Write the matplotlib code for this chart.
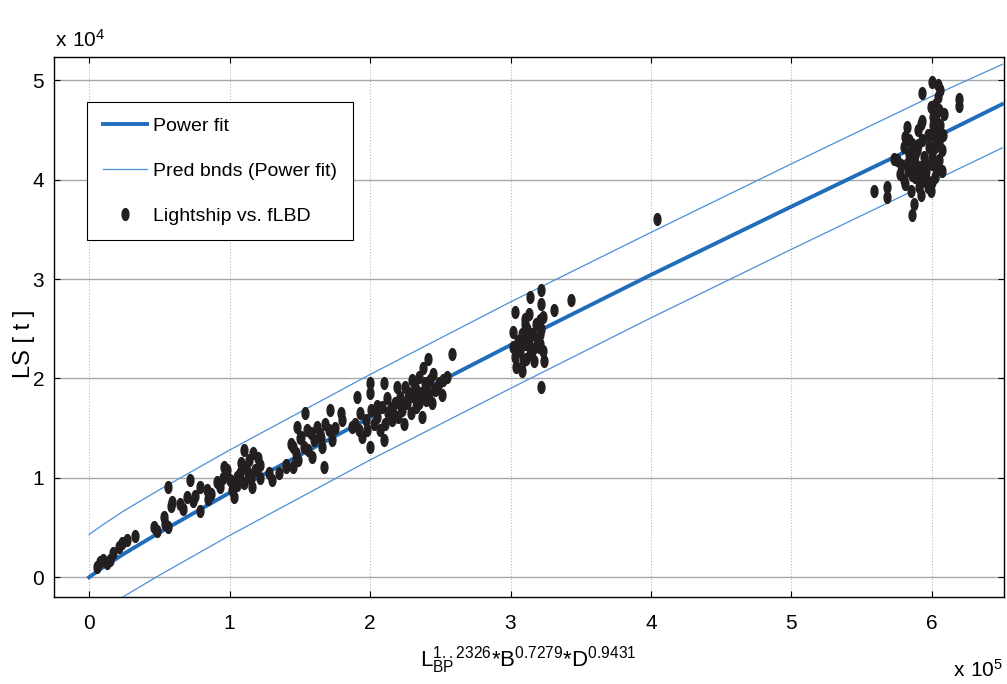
import numpy as np
import matplotlib
matplotlib.use("Agg")
import matplotlib.pyplot as plt

plt.rcParams['font.family'] = ['Liberation Sans', 'DejaVu Sans']
plt.rcParams['mathtext.default'] = 'regular'

# data (x in 1e5, y in 1e4 units)
ship_x = [0.055, 0.078, 0.10, 0.126, 0.15, 0.173, 0.21, 0.233, 0.27, 0.33,
          0.46, 0.48, 0.53, 0.54, 0.56, 0.56, 0.58, 0.59, 0.65, 0.67,
          0.70, 0.72, 0.74, 0.755, 0.79, 0.79, 0.84, 0.85, 0.87, 0.91,
          0.93, 0.96, 0.98, 1.00, 1.02, 1.03, 1.05, 1.075, 1.10, 1.10,
          1.12, 1.135, 1.15, 1.16, 1.17, 1.18, 1.22, 1.22, 1.28, 1.30,
          1.35, 1.40, 1.455, 1.47, 1.13, 1.08, 1.05, 0.95, 1.20,
          1.40, 1.455, 1.44, 1.47, 1.48, 1.49, 1.51, 1.53, 1.54, 1.55,
          1.56, 1.585, 1.60, 1.62, 1.645, 1.66, 1.67, 1.68, 1.705, 1.715,
          1.73, 1.79, 1.80, 1.87, 1.895, 1.91, 1.92, 1.93, 1.94, 1.97,
          1.98, 2.00, 2.00, 2.00, 2.01, 2.025, 2.05, 2.07, 2.085, 2.10,
          2.10, 2.11, 2.13, 2.155, 2.18, 2.19, 2.20, 2.215, 2.23, 2.24,
          2.25, 2.26, 2.275, 2.29, 2.30, 2.31, 2.32, 2.33, 2.345, 2.36,
          2.37, 2.38, 2.39, 2.40, 2.415, 2.43, 2.44, 2.46, 2.49, 2.51,
          2.52, 2.55, 2.58, 1.50, 1.58, 1.65, 1.75,
          2.05, 2.12, 2.15, 2.18, 2.22, 2.27, 2.33, 2.35, 2.40, 2.42,
          2.45, 2.48,
          3.03, 3.02, 3.02, 3.03, 3.05, 3.07, 3.08, 3.09, 3.09, 3.105,
          3.12, 3.13, 3.14, 3.14, 3.15, 3.165, 3.20, 3.21, 3.21, 3.22,
          3.22, 3.23, 3.235, 3.22, 3.31, 3.43, 4.04,
          3.06, 3.08, 3.10, 3.11, 3.12, 3.13, 3.16, 3.18, 3.19, 3.21,
          3.22, 3.23, 3.10, 3.04,
          5.59, 5.68, 5.68, 5.73, 5.75, 5.775, 5.80, 5.81, 5.81, 5.82,
          5.82, 5.835, 5.85, 5.85, 5.86, 5.86, 5.87, 5.87, 5.88, 5.895,
          5.905, 5.92, 5.92, 5.93, 5.93, 5.94, 5.955, 5.97, 5.98, 5.99,
          5.99, 6.00, 6.00, 6.00, 6.01, 6.025, 6.025, 6.04, 6.04, 6.05,
          6.05, 6.06, 6.06, 6.07, 6.07, 6.085, 5.93, 5.93, 6.19, 6.19,
          5.78, 5.80, 5.83, 5.84, 5.86, 5.88, 5.89, 5.90, 5.91, 5.92,
          5.95, 5.96, 6.00, 6.01, 6.02, 6.03, 6.03, 6.05, 6.06, 6.08,
          6.02, 6.04, 6.00, 5.97, 5.90]
ship_y = [0.10, 0.15, 0.17, 0.14, 0.17, 0.24, 0.30, 0.34, 0.37, 0.42,
          0.51, 0.47, 0.61, 0.54, 0.51, 0.91, 0.72, 0.76, 0.74, 0.69,
          0.81, 0.98, 0.77, 0.82, 0.67, 0.91, 0.875, 0.79, 0.84, 0.96,
          0.91, 1.11, 1.08, 0.98, 0.875, 0.81, 1.01, 1.05, 1.28, 0.945,
          1.11, 1.18, 1.00, 0.91, 1.25, 1.08, 1.13, 1.00, 1.05, 0.98,
          1.05, 1.11, 1.31, 1.18, 1.05, 1.15, 0.93, 1.00, 1.20,
          1.13, 1.11, 1.345, 1.25, 1.51, 1.18, 1.41, 1.31, 1.65, 1.48,
          1.28, 1.21, 1.38, 1.51, 1.445, 1.31, 1.11, 1.545, 1.48, 1.68,
          1.38, 1.65, 1.58, 1.51, 1.545, 1.81, 1.48, 1.65, 1.41, 1.58,
          1.48, 1.95, 1.85, 1.31, 1.68, 1.545, 1.61, 1.48, 1.71, 1.95,
          1.38, 1.545, 1.65, 1.58, 1.75, 1.915, 1.61, 1.81, 1.68, 1.545,
          1.915, 1.75, 1.85, 1.65, 1.98, 1.81, 1.915, 1.71, 2.01, 1.85,
          1.61, 2.11, 1.95, 1.78, 2.20, 1.98, 1.75, 1.88, 1.95, 1.83,
          1.98, 2.01, 2.25, 1.40, 1.45, 1.40, 1.50,
          1.72, 1.80, 1.70, 1.62, 1.72, 1.80, 1.88, 1.75, 1.90, 1.85,
          2.05, 1.90,
          2.67, 2.47, 2.32, 2.22, 2.38, 2.28, 2.08, 2.43, 2.18, 2.55,
          2.35, 2.65, 2.82, 2.25, 2.45, 2.18, 2.32, 2.59, 2.45, 2.75,
          2.89, 2.28, 2.18, 1.915, 2.69, 2.79, 3.60,
          2.30, 2.45, 2.35, 2.20, 2.50, 2.40, 2.30, 2.55, 2.40, 2.35,
          2.50, 2.62, 2.60, 2.12,
          3.89, 3.93, 3.83, 4.21, 4.195, 4.06, 4.33, 4.43, 3.96, 4.53,
          4.16, 4.26, 4.09, 3.89, 4.36, 3.64, 3.76, 4.195, 4.03, 4.30,
          3.93, 4.56, 4.13, 4.40, 3.99, 4.23, 4.09, 3.93, 4.33, 3.89,
          4.73, 4.98, 4.46, 4.16, 4.63, 4.33, 4.03, 4.83, 4.50, 4.70,
          4.195, 4.90, 4.43, 4.30, 4.09, 4.66, 4.87, 4.59, 4.81, 4.74,
          4.15, 4.00, 4.10, 4.40, 4.05, 4.25, 4.15, 4.35, 4.05, 3.85,
          4.18, 4.02, 4.25, 4.55, 4.40, 4.60, 4.12, 4.38, 4.55, 4.45,
          4.75, 4.95, 3.98, 4.45, 4.50]

fit_x = [0.0, 0.1, 0.25, 0.5, 1.0, 2.0, 3.0, 4.0, 5.0, 6.0, 6.5]
fit_y = [0.0, 0.102, 0.238, 0.449, 0.85, 1.608, 2.336, 3.043, 3.73, 4.41, 4.76]
upper_y = [0.43, 0.53, 0.67, 0.88, 1.28, 2.04, 2.77, 3.47, 4.16, 4.84, 5.16]
lower_y = [-0.43, -0.33, -0.19, 0.02, 0.42, 1.18, 1.90, 2.61, 3.30, 3.98, 4.32]

xticks = [0, 1, 2, 3, 4, 5, 6]
yticks = [0, 1, 2, 3, 4, 5]

sx = np.array(ship_x) * 1e5
sy = np.array(ship_y) * 1e4
fx = np.array(fit_x) * 1e5

fig = plt.figure(figsize=(10.07, 6.84), dpi=100)
ax = fig.add_axes([0.0536, 0.127, 0.943, 0.789])

# vertically stretched dot, like in the original export
t = np.linspace(0, 2 * np.pi, 40)
ell = np.column_stack([0.58 * np.cos(t), np.sin(t)])

ax.plot(fx, np.array(fit_y) * 1e4, color='#1f6dbb', lw=2.8, label='Power fit', zorder=3)
ax.plot(fx, np.array(upper_y) * 1e4, color='#4a90d9', lw=0.9, label='Pred bnds (Power fit)', zorder=3)
ax.plot(fx, np.array(lower_y) * 1e4, color='#4a90d9', lw=0.9, zorder=3)
ax.plot(sx, sy, ls='none', marker=ell, ms=8.5, color='#231f20', label='Lightship vs. fLBD', zorder=4)

ax.set_xlim(-0.25e5, 6.51e5)
ax.set_ylim(-0.2e4, 5.23e4)
ax.set_xticks([v * 1e5 for v in xticks])
ax.set_xticklabels([str(v) for v in xticks])
ax.set_yticks([v * 1e4 for v in yticks])
ax.set_yticklabels([str(v) for v in yticks])
ax.tick_params(direction='in', length=4, width=0.8, labelsize=15, top=True, right=True)
ax.tick_params(axis='x', pad=12)
ax.tick_params(axis='y', pad=7)

ax.yaxis.grid(True, color='#a8a8a8', lw=1.0, ls='-')
ax.xaxis.grid(True, color='#b8b8b8', lw=0.8, ls=':')
ax.set_axisbelow(True)
for s in ax.spines.values():
    s.set_linewidth(1.0)

ax.set_xlabel(r'$\mathregular{L_{BP}^{1..2326}{*}B^{0.7279}{*}D^{0.9431}}$', fontsize=16, labelpad=8)
ax.set_ylabel('LS [ t ]', fontsize=17)
ax.yaxis.set_label_coords(-0.02, 0.47)

fig.text(0.055, 0.932, r'$\mathregular{x\ 10^{4}}$', fontsize=15)
fig.text(0.996, 0.01, r'$\mathregular{x\ 10^{5}}$', fontsize=15, ha='right')

leg = ax.legend(loc='upper left', bbox_to_anchor=(0.035, 0.918), fontsize=14,
                frameon=True, fancybox=False, edgecolor='black', framealpha=1,
                handlelength=2.3, handletextpad=0.3, labelspacing=1.4,
                borderpad=0.8, borderaxespad=0)
leg.get_frame().set_linewidth(0.8)

fig.savefig('out.png', dpi=100)
